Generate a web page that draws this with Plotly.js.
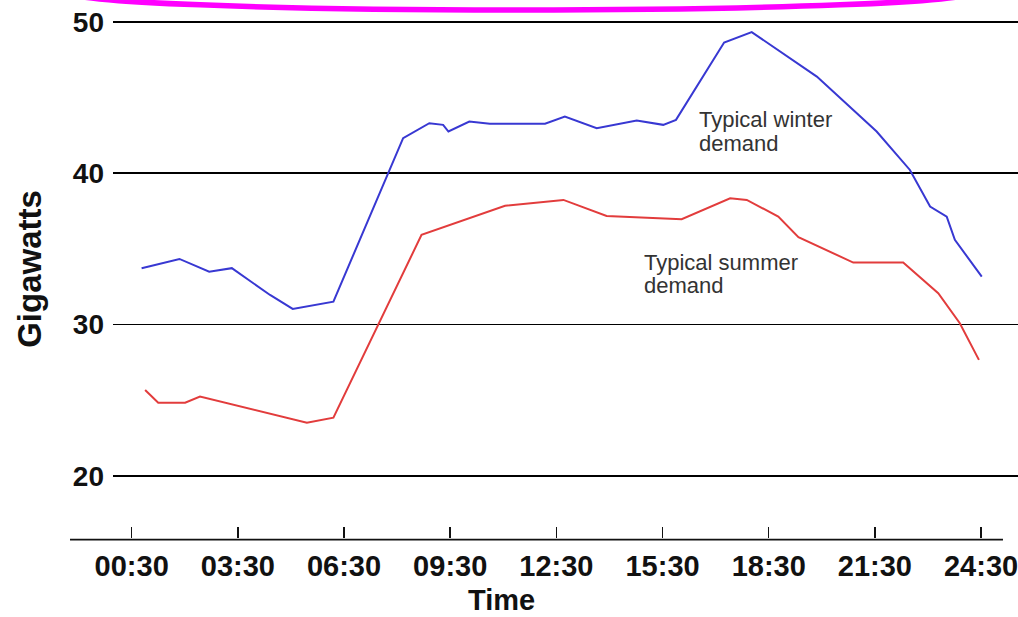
<!DOCTYPE html>
<html>
<head>
<meta charset="utf-8">
<script src="https://cdn.plot.ly/plotly-3.0.1.min.js"></script>
<style>html,body{margin:0;padding:0;background:#fff;}#chart{width:1018px;height:617px;}</style>
</head>
<body>
<div id="chart"></div>
<script>
// Time of day in decimal hours
var winterHours = [0.78, 1.85, 2.69, 3.33, 4.41, 5.05, 6.20, 8.17, 8.91, 9.30, 9.45, 10.04, 10.62, 12.18, 12.74, 13.64, 14.77, 15.52, 15.88, 17.24, 18.02, 19.86, 21.55, 22.49, 23.06, 23.53, 23.76, 24.52];
var winterGW    = [33.73, 34.34, 33.50, 33.73, 31.96, 31.04, 31.52, 42.32, 43.31, 43.20, 42.76, 43.42, 43.27, 43.27, 43.75, 42.98, 43.48, 43.20, 43.53, 48.64, 49.33, 46.39, 42.76, 40.22, 37.80, 37.14, 35.60, 33.17];

var summerHours = [0.88, 1.25, 2.01, 2.43, 5.45, 6.20, 8.69, 11.05, 12.70, 13.92, 16.04, 17.41, 17.88, 18.77, 19.34, 20.89, 22.30, 23.29, 23.90, 24.44];
var summerGW    = [25.68, 24.84, 24.84, 25.24, 23.52, 23.85, 35.93, 37.85, 38.24, 37.18, 36.97, 38.35, 38.24, 37.14, 35.78, 34.10, 34.10, 32.08, 30.09, 27.67];

var xTickVals  = [0.5, 3.5, 6.5, 9.5, 12.5, 15.5, 18.5, 21.5, 24.5];
var xTickText  = ["00:30", "03:30", "06:30", "09:30", "12:30", "15:30", "18:30", "21:30", "24:30"];
var yTickVals  = [20, 30, 40, 50];

var FONT = "'Liberation Sans', Arial, Helvetica, sans-serif";

var traces = [
  {x: winterHours, y: winterGW, type: 'scatter', mode: 'lines', name: 'Typical winter demand',
   line: {color: '#3838d2', width: 2}, hoverinfo: 'skip'},
  {x: summerHours, y: summerGW, type: 'scatter', mode: 'lines', name: 'Typical summer demand',
   line: {color: '#e23c3c', width: 2}, hoverinfo: 'skip'}
];

var layout = {
  width: 1018, height: 617,
  margin: {l: 113, r: 0, t: 0, b: 79, pad: 0},
  paper_bgcolor: '#ffffff', plot_bgcolor: '#ffffff',
  showlegend: false,
  font: {family: FONT, color: '#000'},
  xaxis: {
    range: [-0.028, 25.544],
    tickmode: 'array', tickvals: xTickVals, ticktext: xTickText,
    ticks: 'inside', ticklen: 11, tickwidth: 1.5, tickcolor: '#111',
    showgrid: false, zeroline: false, showline: false,
    tickfont: {family: FONT, size: 29, weight: 'bold', color: '#111'},
    ticklabelstandoff: 8,
    ticklabeloverflow: 'allow',
    fixedrange: true
  },
  yaxis: {
    range: [15.90, 51.45],
    tickmode: 'array', tickvals: yTickVals,
    ticks: '', showgrid: true, gridcolor: '#000', gridwidth: 1.6,
    zeroline: false, showline: false,
    tickfont: {family: FONT, size: 28, weight: 'bold', color: '#111'},
    ticklabelstandoff: 8,
    title: {text: 'Gigawatts', font: {family: FONT, size: 33, weight: 'bold', color: '#111'}, standoff: 21},
    automargin: false,
    fixedrange: true
  },
  shapes: [
    {type: 'line', xref: 'paper', yref: 'paper', x0: -0.0475, x1: 0.9834, y0: -0.003, y1: -0.003,
     line: {color: '#111', width: 1.6}},
    {type: 'circle', xref: 'paper', yref: 'paper', x0: -0.05, x1: 0.95, y0: 0.9814, y1: 1.0468,
     line: {color: '#ff00ff', width: 5.5}, fillcolor: 'rgba(0,0,0,0)'}
  ],
  annotations: [
    {text: 'Time', xref: 'paper', yref: 'paper', x: 0.4298, y: -0.1468, xanchor: 'center', yanchor: 'bottom',
     showarrow: false, borderpad: 0, font: {family: FONT, size: 29, weight: 'bold', color: '#111'}},
    {text: 'Typical winter', xref: 'paper', yref: 'paper', x: 0.6457, y: 0.777, xanchor: 'left', yanchor: 'middle',
     showarrow: false, font: {family: FONT, size: 22, color: '#333'}},
    {text: 'demand', xref: 'paper', yref: 'paper', x: 0.6457, y: 0.7342, xanchor: 'left', yanchor: 'middle',
     showarrow: false, font: {family: FONT, size: 22, color: '#333'}},
    {text: 'Typical summer', xref: 'paper', yref: 'paper', x: 0.5845, y: 0.5121, xanchor: 'left', yanchor: 'middle',
     showarrow: false, font: {family: FONT, size: 22, color: '#333'}},
    {text: 'demand', xref: 'paper', yref: 'paper', x: 0.5845, y: 0.4693, xanchor: 'left', yanchor: 'middle',
     showarrow: false, font: {family: FONT, size: 22, color: '#333'}}
  ]
};

Plotly.newPlot('chart', traces, layout, {displayModeBar: false, staticPlot: true});
</script>
</body>
</html>
